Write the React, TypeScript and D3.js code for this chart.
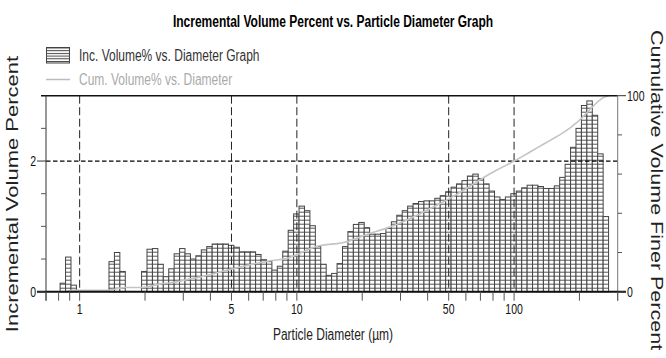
import React from 'react';
import * as d3 from 'd3';

const W = 666;
const H = 358;

// Analyzer channels: geometric bins, 40 per decade, first lower edge in µm
const CHANNEL_START_UM = 0.813;
const CHANNELS_PER_DECADE = 40;

// Incremental volume % in each channel, finest channel first
const incVolume = [
  0.13, 0.53, 0.1, 0, 0, 0, 0, 0, 0, 0.46,
  0.6, 0.31, 0, 0, 0, 0.31, 0.65, 0.66, 0.42, 0.23,
  0.35, 0.58, 0.66, 0.58, 0.5, 0.55, 0.64, 0.69, 0.73, 0.73,
  0.73, 0.71, 0.68, 0.61, 0.61, 0.61, 0.57, 0.49, 0.46, 0.33,
  0.39, 0.62, 0.94, 1.19, 1.31, 1.24, 1.01, 0.69, 0.42, 0.25,
  0.28, 0.43, 0.69, 0.92, 1.03, 1.06, 0.98, 0.88, 0.88, 0.89,
  0.97, 1.07, 1.17, 1.24, 1.31, 1.35, 1.38, 1.39, 1.39, 1.43,
  1.47, 1.53, 1.6, 1.65, 1.7, 1.77, 1.8, 1.73, 1.65, 1.54,
  1.45, 1.41, 1.45, 1.5, 1.54, 1.59, 1.63, 1.63, 1.61, 1.58,
  1.58, 1.62, 1.75, 1.95, 2.21, 2.5, 2.85, 2.92, 2.7, 2.11,
  1.15,
];

const xLabelTicks = [1, 5, 10, 50, 100];
const xTickValues = [0.7, 0.8, 0.9, 1, 2, 3, 4, 5, 6, 7, 8, 9, 10, 20, 30, 40, 50, 60, 70, 80, 90, 100, 200, 300];
const xGridValues = [1, 5, 10, 50, 100];
const leftMajorTicks = [0, 2];
const leftMinorTicks = [0.5, 1, 1.5, 2.5];
const rightMajorTicks = [0, 100];
const rightMinorTicks = [20, 40, 60, 80];
const leftGridValues = [2];

const TITLE = 'Incremental Volume Percent vs. Particle Diameter Graph';
const LEGEND_INC = 'Inc. Volume% vs. Diameter Graph';
const LEGEND_CUM = 'Cum. Volume% vs. Diameter';
const X_TITLE = 'Particle Diameter (\u00b5m)';
const Y_LEFT_TITLE = 'Incremental Volume Percent';
const Y_RIGHT_TITLE = 'Cumulative Volume Finer Percent';

const FONT = "'Liberation Sans', Arial, sans-serif";
const SX = 0.75; // narrow text

const plot = { left: 46, right: 617.7, top: 95.7, bottom: 291.7 };

export default function App() {
  const x = d3.scaleLog().domain([0.7, 300]).range([plot.left, plot.right]);
  const yL = d3.scaleLinear().domain([0, 3]).range([plot.bottom, plot.top]);
  const yR = d3.scaleLinear().domain([0, 100]).range([plot.bottom, plot.top]);

  const edges = d3.range(incVolume.length + 1).map(
    (i) => CHANNEL_START_UM * Math.pow(10, i / CHANNELS_PER_DECADE)
  );
  const cum = Array.from(d3.cumsum(incVolume));
  const cumPoints: [number, number][] = [[edges[0], 0]];
  cum.forEach((c, i) => cumPoints.push([edges[i + 1], c]));
  const cumLine = d3
    .line<[number, number]>()
    .x((d) => x(d[0]))
    .y((d) => yR(Math.min(d[1], 100)));

  const txt = (
    key: string,
    tx: number,
    ty: number,
    s: string,
    opts: { size: number; anchor?: string; weight?: string; fill?: string; rotate?: number }
  ) => (
    <text
      key={key}
      transform={`translate(${tx},${ty}) scale(${SX},1)${opts.rotate ? ` rotate(${opts.rotate})` : ''}`}
      fontFamily={FONT}
      fontSize={opts.size}
      fontWeight={opts.weight || 'normal'}
      textAnchor={opts.anchor || 'start'}
      fill={opts.fill || '#111'}
    >
      {s}
    </text>
  );

  return (
    <svg width={W} height={H} style={{ position: 'absolute', left: 0, top: 0, background: '#fff' }}>
      <defs>
        <pattern id="hatch" patternUnits="userSpaceOnUse" x={0} y={plot.bottom} width={10} height={4}>
          <rect width={10} height={4} fill="#fff" />
          <line x1={0} x2={10} y1={0.5} y2={0.5} stroke="#555" strokeWidth={1} />
        </pattern>
        <pattern id="hatchSmall" patternUnits="userSpaceOnUse" x={0} y={47.5} width={10} height={2.7}>
          <rect width={10} height={2.7} fill="#fff" />
          <line x1={0} x2={10} y1={0.5} y2={0.5} stroke="#444" strokeWidth={1} />
        </pattern>
      </defs>
      <rect width={W} height={H} fill="#fff" />

      {/* title */}
      {txt('title', 333, 27, TITLE, { size: 16, anchor: 'middle', weight: 'bold', fill: '#000' })}

      {/* legend */}
      <rect x={46.5} y={47.5} width={23} height={15.5} fill="url(#hatchSmall)" stroke="#444" strokeWidth={1} />
      {txt('leg1', 79, 61, LEGEND_INC, { size: 16, fill: '#333' })}
      <line x1={46} x2={70} y1={79.5} y2={79.5} stroke="#bbb" strokeWidth={1.5} />
      {txt('leg2', 79, 84.5, LEGEND_CUM, { size: 16, fill: '#aaa' })}

      {/* histogram bars */}
      <g>
        {incVolume.map((v, i) =>
          v > 0 ? (
            <rect
              key={`b${i}`}
              x={x(edges[i])}
              y={yL(v)}
              width={x(edges[i + 1]) - x(edges[i])}
              height={yL(0) - yL(v)}
              fill="url(#hatch)"
              stroke="#444"
              strokeWidth={1}
            />
          ) : null
        )}
      </g>

      {/* grid */}
      {xGridValues.map((v) => (
        <line
          key={`gx${v}`}
          x1={x(v)}
          x2={x(v)}
          y1={plot.top}
          y2={plot.bottom}
          stroke="#222"
          strokeWidth={1}
          strokeDasharray="8,3.5"
        />
      ))}
      {leftGridValues.map((v) => (
        <line
          key={`gy${v}`}
          x1={plot.left}
          x2={plot.right}
          y1={yL(v)}
          y2={yL(v)}
          stroke="#000"
          strokeWidth={1.3}
          strokeDasharray="4.5,2.5"
        />
      ))}

      {/* cumulative curve */}
      <path d={cumLine(cumPoints) || ''} fill="none" stroke="#c4c4c4" strokeWidth={1.6} />

      {/* frame & axes */}
      <line x1={41} x2={plot.right} y1={plot.top} y2={plot.top} stroke="#111" strokeWidth={1.5} />
      <line x1={plot.left} x2={plot.left} y1={plot.top} y2={plot.bottom + 9} stroke="#333" strokeWidth={1} />
      <line x1={plot.right} x2={plot.right} y1={plot.top} y2={plot.bottom + 9} stroke="#777" strokeWidth={1} />
      <line x1={37} x2={626} y1={plot.bottom} y2={plot.bottom} stroke="#111" strokeWidth={2} />

      {/* x ticks */}
      {xTickValues.map((v) => (
        <line key={`xt${v}`} x1={x(v)} x2={x(v)} y1={plot.bottom} y2={plot.bottom + 9} stroke="#555" strokeWidth={1} />
      ))}
      {xLabelTicks.map((v) => txt(`xl${v}`, x(v), 314, String(v), { size: 14, anchor: 'middle' }))}

      {/* left y ticks */}
      {leftMajorTicks.map((v) => (
        <line key={`lt${v}`} x1={37} x2={plot.left} y1={yL(v)} y2={yL(v)} stroke="#333" strokeWidth={1} />
      ))}
      {leftMinorTicks.map((v) => (
        <line key={`lm${v}`} x1={41} x2={plot.left} y1={yL(v)} y2={yL(v)} stroke="#555" strokeWidth={1} />
      ))}
      {leftMajorTicks.map((v) => txt(`ll${v}`, 36, yL(v) + 5, String(v), { size: 14, anchor: 'end' }))}

      {/* right y ticks */}
      {rightMajorTicks.map((v) => (
        <line key={`rt${v}`} x1={plot.right} x2={626} y1={yR(v)} y2={yR(v)} stroke="#333" strokeWidth={1} />
      ))}
      {rightMinorTicks.map((v) => (
        <line key={`rm${v}`} x1={plot.right} x2={622} y1={yR(v)} y2={yR(v)} stroke="#555" strokeWidth={1} />
      ))}
      {rightMajorTicks.map((v) => txt(`rl${v}`, 627, yR(v) + 5, String(v), { size: 14 }))}

      {/* axis titles */}
      {txt('xtitle', 333, 340, X_TITLE, { size: 16, anchor: 'middle', fill: '#222' })}
      {txt('yltitle', 18, 194, Y_LEFT_TITLE, { size: 22, anchor: 'middle', fill: '#222', rotate: -90 })}
      {txt('yrtitle', 651, 190, Y_RIGHT_TITLE, { size: 21.5, anchor: 'middle', fill: '#222', rotate: 90 })}
    </svg>
  );
}
